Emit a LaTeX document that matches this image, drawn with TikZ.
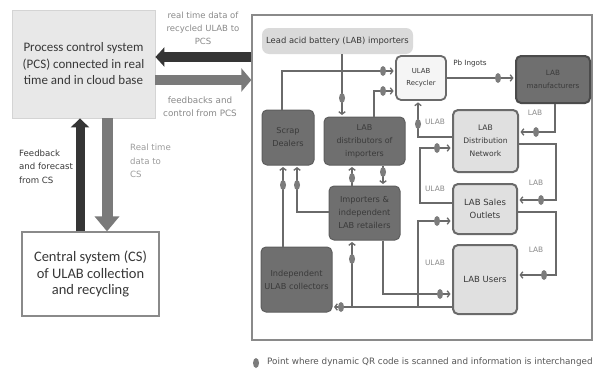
\documentclass[tikz,border=0pt]{standalone}
\usepackage{fontspec}
\setmainfont{DejaVu Sans}
\newfontfamily\calib{Carlito}
\usetikzlibrary{arrows.meta,shapes.geometric}
\definecolor{lnc}{HTML}{6A6A6A}
\definecolor{qrc}{HTML}{7C7C7C}
\definecolor{dkfill}{HTML}{6F6F6F}
\definecolor{dkdraw}{HTML}{5E5E5E}
\definecolor{dktext}{HTML}{3A3A3A}
\definecolor{ltfill}{HTML}{E0E0E0}
\definecolor{ltdraw}{HTML}{6A6A6A}
\definecolor{txdark}{HTML}{383838}
\definecolor{txgray}{HTML}{8A8A8A}
\definecolor{pcsfill}{HTML}{E8E8E8}
\definecolor{pcsdraw}{HTML}{D4D4D4}
\definecolor{arrdark}{HTML}{353535}
\definecolor{arrmid}{HTML}{7A7A7A}
\definecolor{impfill}{HTML}{DADADA}
\begin{document}
\begin{tikzpicture}[x=1pt,y=-1pt,
  box/.style={rounded corners=5pt, inner sep=0pt, align=center},
  darkbox/.style={box, fill=dkfill, draw=dkdraw, line width=1pt, text=dktext, font=\fontsize{8.2}{13}\selectfont},
  lightbox/.style={box, fill=ltfill, draw=ltdraw, line width=2pt, text=txdark, font=\fontsize{8.5}{13}\selectfont},
  conn/.style={draw=lnc, line width=1.3pt, shorten >=1.5pt, -{Straight Barb[length=2.5pt,width=6.5pt]}},
  qr/.style={ellipse, fill=qrc, minimum width=6pt, minimum height=10pt, inner sep=0pt},
  lbl/.style={font=\fontsize{7.4}{9}\selectfont, text=txgray, inner sep=0pt},
  side/.style={font=\fontsize{8.6}{13.5}\selectfont, inner sep=0pt}
]
\useasboundingbox (0,0) rectangle (594,372);
\fill[white] (0,0) rectangle (594,372);

% left side
\node[fill=pcsfill, draw=pcsdraw, line width=0.8pt, minimum width=143pt, minimum height=108pt, align=center, inner sep=0pt,
  font=\calib\fontsize{13}{16.5}\selectfont, text=txdark] (pcs) at (83.5,64)
  {Process control system\\(PCS) connected in real\\time and in cloud base};
\node[fill=white, draw=txgray, line width=1.2pt, minimum width=137pt, minimum height=84pt, align=center, inner sep=0pt,
  font=\calib\fontsize{14.5}{16.5}\selectfont, text=txdark] (cs) at (90.5,274)
  {Central system (CS)\\of ULAB collection\\and recycling};

% right panel
\node[draw=txgray, line width=1.3pt, minimum width=340pt, minimum height=325pt, inner sep=0pt] (panel) at (422,177.5) {};

% block arrows
\draw[arrdark, line width=10pt, -{Triangle[width=19pt,length=9pt]}] (panel.west |- 0,57) -- (pcs.east |- 0,57);
\draw[arrmid, line width=10pt, -{Triangle[width=23pt,length=10pt]}] (pcs.east |- 0,80) -- (panel.west |- 0,80);
\draw[arrdark, line width=9pt, -{Triangle[width=18pt,length=9pt]}] (cs.north -| 80,0) -- (pcs.south -| 80,0);
\draw[arrmid, line width=11pt, -{Triangle[width=24pt,length=15pt]}] (pcs.south -| 107,0) -- (cs.north -| 107,0);

\node[lbl, align=center, font=\fontsize{8.5}{13}\selectfont] (t1) at (203,28) {real time data of\\recycled ULAB to\\PCS};
\node[lbl, align=center, font=\fontsize{8.8}{13}\selectfont] (t2) at (200,106.5) {feedbacks and\\control from PCS};
\node[side, align=left, anchor=west, text=txdark] (t3) at (19,166.5) {Feedback\\and forecast\\from CS};
\node[side, align=left, anchor=west, text=txgray!85] (t4) at (130,161) {Real time\\data to\\CS};

% boxes in panel
\node[box, fill=impfill, rounded corners=7pt, minimum width=151pt, minimum height=26pt, text=txdark, font=\fontsize{8.4}{9}\selectfont] (imp) at (337.5,41) {Lead acid battery (LAB) importers};
\node[box, fill=white!96!black, draw=ltdraw, line width=1.8pt, minimum width=50pt, minimum height=44pt, text=txdark, font=\fontsize{6.9}{12}\selectfont] (rec) at (421,78) {ULAB\\Recycler};
\node[darkbox, draw=dkdraw!80!black, line width=2pt, minimum width=74pt, minimum height=47pt, font=\fontsize{7.2}{12.5}\selectfont] (man) at (553,79.5) {LAB\\manufacturers};
\node[lightbox, minimum width=65pt, minimum height=62pt, font=\fontsize{7.6}{13}\selectfont] (dist) at (485.5,141) {LAB\\Distribution\\Network};
\node[lightbox, minimum width=64pt, minimum height=50pt] (sales) at (485,209) {LAB Sales\\Outlets};
\node[lightbox, minimum width=64pt, minimum height=69pt] (users) at (485,279.5) {LAB Users};
\node[darkbox, minimum width=52pt, minimum height=55pt] (scrap) at (288,137.5) {Scrap\\Dealers};
\node[darkbox, minimum width=81pt, minimum height=48pt, font=\fontsize{8}{13}\selectfont] (distr) at (364.5,141) {LAB\\distributors of\\importers};
\node[darkbox, minimum width=71pt, minimum height=54pt] (ret) at (364.5,213) {Importers \&\\independent\\LAB retailers};
\node[darkbox, minimum width=71pt, minimum height=65pt] (coll) at (296.5,279.5) {Independent\\ULAB collectors};

% connectors
\coordinate (j1) at (352,307);
\coordinate (j2) at (418,307);
\draw[conn] (scrap.north -| 282,0) |- (rec.west |- 0,71);
\draw[conn] (imp.south -| 342,0) -- (distr.north -| 342,0);
\draw[conn] (distr.north -| 374,0) |- (rec.west |- 0,91);
\draw[conn] (dist.west |- 0,137) -| (rec.south -| 418,0);
\draw[conn] (man.south -| 555,0) |- (dist.east |- 0,132);
\draw[conn] (sales.west |- 0,203) -| (420,148) -- (dist.west |- 0,148);
\draw[conn] (dist.east |- 0,144) -| (556,200) -- (sales.east |- 0,200);
\draw[conn] (sales.east |- 0,212) -| (556,275) -- (users.east |- 0,275);
\draw[conn] (users.west |- 0,307) -- (coll.east |- 0,307);
\draw[conn] (j1) -- (ret.south -| 352,0);
\draw[conn] (j2) |- (sales.west |- 0,221);
\draw[conn] (ret.south -| 383,0) |- (users.west |- 0,294);
\draw[conn] (coll.north -| 283,0) -- (scrap.south -| 283,0);
\draw[conn] (ret.west |- 0,212) -| (scrap.south -| 297,0);
\draw[conn] (ret.north -| 352,0) -- (distr.south -| 352,0);
\draw[conn] (distr.south -| 383,0) -- (ret.north -| 383,0);
\draw[conn] (rec.east) -- (man.west |- rec.east);

% QR points
\foreach \p [count=\i] in {(383,71),(342,98),(383,91),(418,124),(536,132),(437,148),(541,200),(544,275),(341,307),(352,259),(437,221),(440,294),(283,185),(297,185),(352,178),(383,172),(498,78)}
  \node[qr] (q\i) at \p {};

% connector labels
\node[lbl, text=txdark, font=\fontsize{7.2}{8}\selectfont] (pb) at (470,64) {Pb Ingots};
\node[lbl] (la1) at (535,113) {LAB};
\node[lbl] (la2) at (536,183) {LAB};
\node[lbl] (la3) at (536,250) {LAB};
\node[lbl] (ul1) at (435,122) {ULAB};
\node[lbl] (ul2) at (435,189) {ULAB};
\node[lbl] (ul3) at (435,263) {ULAB};

% legend
\node[qr] (qleg) at (256,363) {};
\node[anchor=west, inner sep=0pt, text=txdark!85, font=\fontsize{8.8}{10}\selectfont] (leg) at (267,362) {Point where dynamic QR code is scanned and information is interchanged};
\end{tikzpicture}
\end{document}
